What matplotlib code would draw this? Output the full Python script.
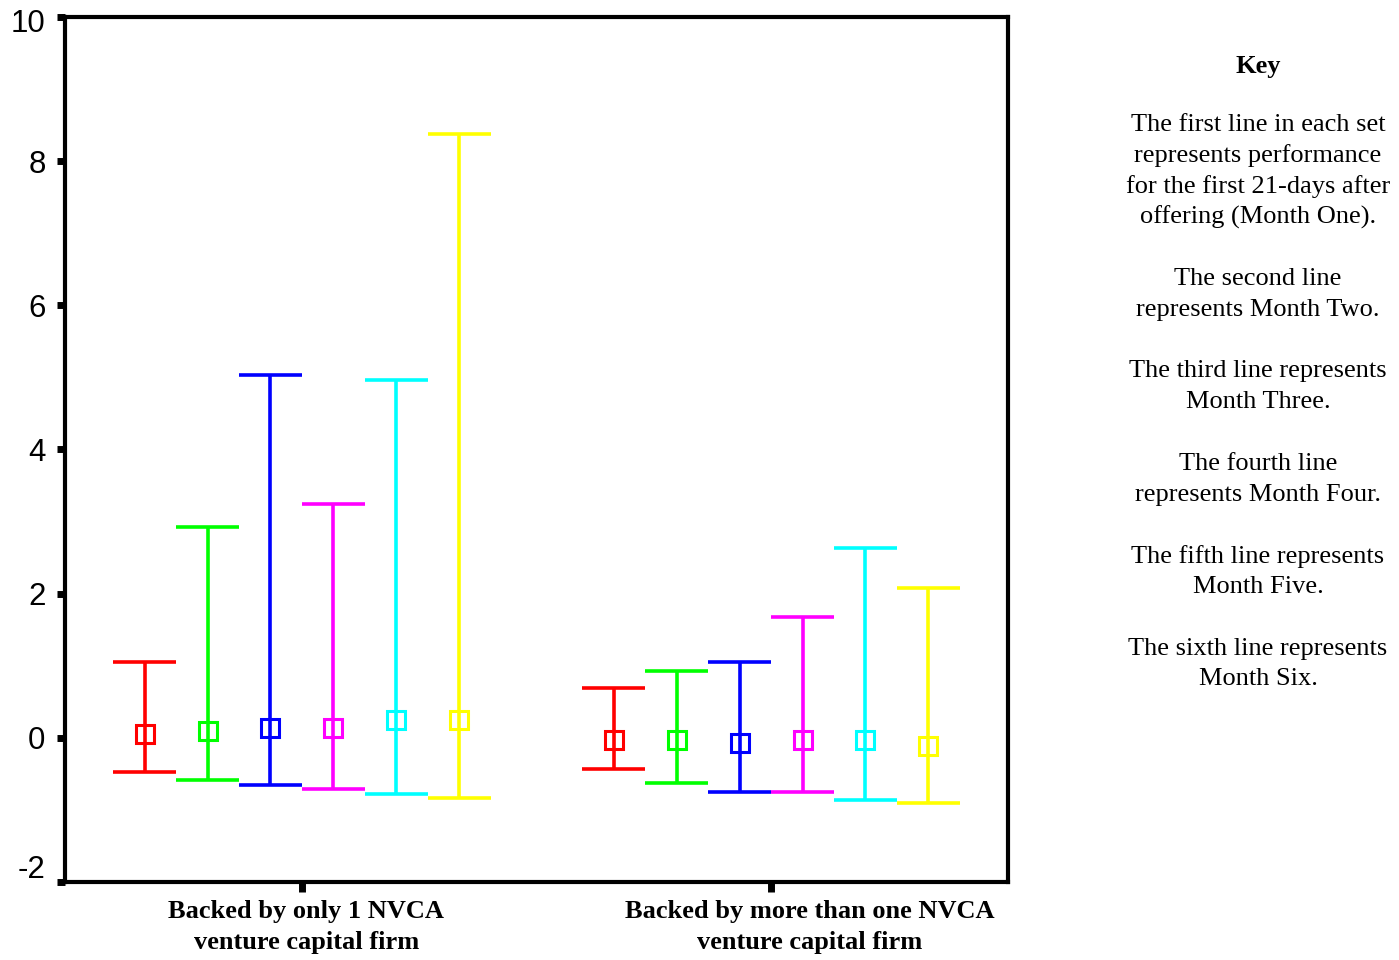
import numpy as np
import matplotlib.pyplot as plt
from matplotlib.transforms import ScaledTranslation, blended_transform_factory

# Group labels (x categories) and the six monthly series in each group
groups = ["Backed by only 1 NVCA\nventure capital firm",
          "Backed by more than one NVCA\nventure capital firm"]
months = ["Month One", "Month Two", "Month Three", "Month Four", "Month Five", "Month Six"]
colors = ["#ff0000", "#00ff00", "#0000ff", "#ff00ff", "#00ffff", "#ffff00"]

# values: mean and interval bounds
mean_single = [0.05, 0.10, 0.13, 0.13, 0.25, 0.25]
low_single = [-0.47, -0.58, -0.66, -0.71, -0.78, -0.83]
high_single = [1.05, 2.93, 5.03, 3.24, 4.96, 8.38]

mean_multi = [-0.03, -0.03, -0.07, -0.03, -0.03, -0.11]
low_multi = [-0.43, -0.63, -0.75, -0.75, -0.86, -0.90]
high_multi = [0.69, 0.93, 1.05, 1.68, 2.64, 2.08]

yticks = [-2, 0, 2, 4, 6, 8, 10]

key_title = "Key"
key_lines = [
    "The first line in each set", "represents performance",
    "for the first 21-days after", "offering (Month One).", "",
    "The second line", "represents Month Two.", "",
    "The third line represents", "Month Three.", "",
    "The fourth line", "represents Month Four.", "",
    "The fifth line represents", "Month Five.", "",
    "The sixth line represents", "Month Six.",
]

W, H = 1399, 960
fig = plt.figure(figsize=(W / 100, H / 100), dpi=100)
ax = fig.add_axes([65 / W, 1 - 882 / H, (1008 - 65) / W, (882 - 17) / H])

step = 0.134
half_cap = step / 2
all_means = [mean_single, mean_multi]
all_low = [low_single, low_multi]
all_high = [high_single, high_multi]

for g in range(len(groups)):
    for i in range(len(months)):
        x = g + 1 + (i - 2.5) * step
        c = colors[i]
        lo, hi, m = all_low[g][i], all_high[g][i], all_means[g][i]
        ax.vlines(x, lo, hi, color=c, lw=2.6)
        ax.hlines([lo, hi], x - half_cap, x + half_cap, color=c, lw=2.6)
        ax.plot(x, m, marker="s", ms=13.5, mfc="none", mec=c, mew=2.2, ls="none")

ax.set_xlim(0.495, 2.505)
ax.set_ylim(-2, 10)
ax.set_yticks(yticks)
ax.set_yticklabels([str(t) for t in yticks], fontfamily="Liberation Sans", fontsize=22.5)
ax.set_xticks([1, 2])
ax.set_xticklabels(["", ""])
ax.tick_params(axis="y", direction="out", length=6, width=5, pad=8)
ax.tick_params(axis="x", direction="out", length=7, width=5, pad=6)
for s in ax.spines.values():
    s.set_linewidth(3)

# end labels sit inside the axis range in the original
ylabs = ax.get_yticklabels()
ylabs[0].set_transform(ylabs[0].get_transform() + ScaledTranslation(0, 16 / 100, fig.dpi_scale_trans))
ylabs[-1].set_transform(ylabs[-1].get_transform() + ScaledTranslation(0, -3 / 100, fig.dpi_scale_trans))

# group labels, a bit right of their ticks as in the original
label_shift = [0.009, 0.083]
xt = blended_transform_factory(ax.transData, fig.transFigure)
for g, lab in enumerate(groups):
    ax.text(g + 1 + label_shift[g], 1 - 927 / H, lab, transform=xt, ha="center", va="center",
            fontfamily="Liberation Serif", fontweight="bold", fontsize=19, linespacing=1.45)

# key text on the right
kx = 1258 / W
fig.text(kx, 1 - 66 / H, key_title, ha="center", va="center",
         fontfamily="Liberation Serif", fontweight="bold", fontsize=19)
pitch = 30.8
for j, line in enumerate(key_lines):
    if line:
        fig.text(kx, 1 - (125 + j * pitch) / H, line, ha="center", va="center",
                 fontfamily="Liberation Serif", fontsize=19)

fig.savefig("out.png", dpi=100)
